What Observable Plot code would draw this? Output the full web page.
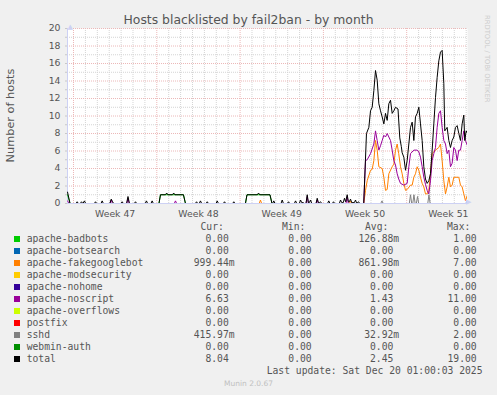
<!DOCTYPE html>
<html>
<head>
<meta charset="utf-8">
<script src="https://cdn.jsdelivr.net/npm/d3@7"></script>
<script src="https://cdn.jsdelivr.net/npm/@observablehq/plot@0.6"></script>
<style>
  html, body { margin: 0; padding: 0; background: #f0f0f0; }
  #wrap { position: relative; width: 497px; height: 395px; background: #f0f0f0; overflow: hidden; }
  #wrap svg { position: absolute; left: 0; top: 0; }
  .t { position: absolute; white-space: pre; color: #555; }
  .mono { font-family: "DejaVu Sans Mono", monospace; font-size: 9.7px; line-height: 12px; }
  .sw { position: absolute; width: 6px; height: 6px; }
</style>
</head>
<body>
<div id="wrap"></div>
<script>
// ---------- data (x = days since Mon 2025-11-17 00:00, value = hosts) ----------
const seriesNames = ["apache-badbots","apache-botsearch","apache-fakegooglebot","apache-modsecurity","apache-nohome","apache-noscript","apache-overflows","postfix","sshd","webmin-auth","total"];
const seriesColors = ["#00cc00","#0066b3","#ff8000","#ffcc00","#330099","#990099","#ccff00","#ff0000","#808080","#008f00","#000000"];
const curStr = ["0.00","0.00","999.44m","0.00","0.00","6.63","0.00","0.00","415.97m","0.00","8.04"];
const minStr = ["0.00","0.00","0.00","0.00","0.00","0.00","0.00","0.00","0.00","0.00","0.00"];
const avgStr = ["126.88m","0.00","861.98m","0.00","0.00","1.43","0.00","0.00","32.92m","0.00","2.45"];
const maxStr = ["1.00","0.00","7.00","0.00","0.00","11.00","0.00","0.00","2.00","0.00","19.00"];

const weekLabels = ["Week 47","Week 48","Week 49","Week 50","Week 51"];
const weekLabelDays = [3.5, 10.5, 17.5, 24.5, 31.5];
const yLabels = [0,2,4,6,8,10,12,14,16,18,20];

const zeroPts = [[-0.50,0],[33.11,0]];
const badbotsPts = [[-0.50,1.0],[-0.29,0],[7.18,0],[7.31,1.0],[9.24,1.0],[9.41,0],[14.45,0],[14.58,1.0],[16.51,1.0],[16.68,0],[33.11,0]];
const fakegooglebotPts = [[-0.50,0],[15.61,0],[15.71,0.4],[15.81,0],[23.18,0],[23.28,0.3],[23.38,0],[24.39,0],[24.54,1.5],[24.68,2.6],[24.96,3.8],[25.10,3.9],[25.24,4.9],[25.38,7.2],[25.52,6.1],[25.66,4.2],[25.94,4.0],[26.08,3.0],[26.22,1.5],[26.36,1.6],[26.50,3.4],[26.78,4.2],[26.92,4.5],[27.06,6.1],[27.20,6.8],[27.33,5.7],[27.48,4.2],[27.62,3.4],[27.76,2.3],[27.90,1.5],[28.04,1.6],[28.32,2.1],[28.46,2.1],[28.60,3.0],[28.74,3.4],[28.88,4.2],[29.02,3.8],[29.16,3.0],[29.30,2.3],[29.44,1.9],[29.58,1.1],[29.72,1.1],[29.86,1.5],[30.00,3.4],[30.14,5.7],[30.42,6.1],[30.70,6.4],[30.84,6.8],[30.98,4.9],[31.12,2.6],[31.26,1.1],[31.40,1.9],[31.54,3.0],[31.68,1.9],[31.82,2.1],[31.96,3.0],[32.38,3.0],[32.52,2.1],[32.66,1.9],[32.80,1.1],[32.94,0.3],[33.11,1.0]];
const noscriptPts = [[-0.50,0.3],[-0.35,0],[3.07,0],[3.17,0.4],[3.27,0],[4.48,0],[4.58,0.6],[4.68,0],[8.47,0],[8.57,0.3],[8.67,0],[19.54,0],[19.64,0.8],[19.74,0],[20.38,0],[20.48,0.4],[20.58,0],[22.90,0],[23.00,0.8],[23.10,0],[24.39,0],[24.54,4.9],[24.68,5.0],[24.96,5.7],[25.24,6.8],[25.38,8.3],[25.52,7.2],[25.66,6.1],[25.80,6.6],[25.94,7.2],[26.08,7.8],[26.22,7.6],[26.36,8.0],[26.50,7.6],[26.64,7.2],[26.78,6.1],[26.92,4.9],[27.06,4.4],[27.20,3.4],[27.33,2.8],[27.48,2.3],[27.76,2.1],[28.04,2.3],[28.18,4.2],[28.32,5.7],[28.60,6.1],[28.88,6.1],[29.02,5.9],[29.16,5.3],[29.30,4.2],[29.44,3.0],[29.58,2.2],[29.72,1.5],[29.86,1.1],[30.00,2.6],[30.14,4.9],[30.28,5.7],[30.42,6.4],[30.56,8.7],[30.70,10.3],[30.84,10.6],[30.98,8.7],[31.12,7.2],[31.26,6.8],[31.40,5.7],[31.54,6.1],[31.68,4.2],[31.82,4.6],[31.96,6.4],[32.10,6.1],[32.24,4.9],[32.38,6.1],[32.52,6.1],[32.66,7.2],[32.80,8.3],[32.94,7.2],[33.11,6.6]];
const sshdPts = [[-0.50,0],[25.82,0],[25.92,0.3],[26.02,0],[28.22,0],[28.32,1.0],[28.42,0],[28.51,0],[28.61,1.0],[28.71,0],[28.81,0],[28.91,0.8],[29.01,0],[29.77,0],[29.87,1.0],[29.97,0],[32.98,0],[33.11,0.4]];
const totalPts = [[-0.50,1.3],[-0.29,0],[0.21,0],[0.31,0.2],[0.41,0],[0.57,0],[0.67,0.2],[0.79,0],[0.92,0.3],[1.02,0],[1.75,0],[1.85,0.2],[1.95,0],[2.31,0],[2.41,0.3],[2.51,0],[3.05,0],[3.17,0.5],[3.29,0.2],[3.37,0],[3.99,0],[4.09,0.2],[4.19,0],[4.46,0],[4.58,0.8],[4.70,0],[5.11,0],[5.21,0.2],[5.31,0],[6.03,0],[6.13,0.3],[6.23,0],[6.51,0],[6.61,0.3],[6.71,0],[7.18,0],[7.31,1.0],[7.73,1.0],[7.83,1.2],[7.93,1.0],[8.32,1.0],[8.42,1.2],[8.52,1.0],[9.24,1.0],[9.41,0],[10.24,0],[10.34,0.2],[10.44,0],[10.57,0],[10.67,0.3],[10.77,0],[11.14,0],[11.24,0.2],[11.34,0],[11.98,0],[12.08,0.3],[12.18,0],[12.59,0],[12.69,0.2],[12.79,0],[13.37,0],[13.47,0.2],[13.57,0],[14.45,0],[14.58,1.0],[15.45,1.0],[15.55,1.2],[15.65,1.0],[16.51,1.0],[16.68,0],[16.73,0],[16.83,0.3],[16.93,0],[17.44,0],[17.54,0.4],[17.64,0],[17.97,0],[18.07,0.2],[18.17,0],[18.56,0],[18.66,0.3],[18.76,0],[18.98,0],[19.08,0.4],[19.18,0.1],[19.30,0.1],[19.40,0],[19.54,0],[19.64,1.0],[19.74,0.1],[19.82,0.1],[19.92,0.4],[20.02,0],[20.38,0],[20.48,0.6],[20.58,0.1],[20.66,0.1],[20.76,0.2],[20.86,0],[21.35,0],[21.45,0.3],[21.55,0],[21.75,0],[21.85,0.2],[21.95,0],[22.34,0],[22.44,0.4],[22.54,0.1],[22.67,0.1],[22.77,0.6],[22.87,0.2],[23.00,1.0],[23.10,0.2],[23.18,0.2],[23.28,0.5],[23.38,0.1],[23.60,0.1],[23.70,0.4],[23.80,0],[23.95,0.2],[24.05,0],[24.39,0],[24.62,8.0],[24.82,8.7],[24.96,10.6],[25.10,11.0],[25.24,12.9],[25.38,15.2],[25.52,14.1],[25.66,11.4],[25.80,10.6],[25.94,9.9],[26.08,9.1],[26.22,10.3],[26.36,9.5],[26.50,11.4],[26.64,11.8],[26.78,10.3],[26.92,10.6],[27.06,11.0],[27.27,10.8],[27.42,7.5],[27.55,6.5],[27.62,5.8],[27.76,5.3],[27.90,3.8],[28.04,4.9],[28.18,6.8],[28.32,8.7],[28.46,9.3],[28.60,7.2],[28.74,9.9],[28.88,10.3],[29.02,11.0],[29.16,9.1],[29.30,7.2],[29.44,4.2],[29.58,2.8],[29.72,2.3],[29.86,2.6],[30.00,3.4],[30.14,6.1],[30.28,9.1],[30.42,12.1],[30.56,14.4],[30.70,16.3],[30.84,17.3],[30.98,17.5],[31.12,13.7],[31.20,8.3],[31.40,8.7],[31.54,7.2],[31.68,6.4],[31.82,7.2],[31.96,7.6],[32.10,8.7],[32.24,8.9],[32.38,8.0],[32.52,7.2],[32.66,9.1],[32.80,10.1],[32.88,7.2],[33.00,8.3],[33.11,8.0]];

const seriesPts = [badbotsPts, zeroPts, fakegooglebotPts, zeroPts, zeroPts, noscriptPts, zeroPts, zeroPts, sshdPts, zeroPts, totalPts];

// ---------- helpers ----------
const T0 = Date.UTC(2025, 10, 17);
const toDate = d => new Date(T0 + d * 864e5);
const xDomain = [toDate(-0.504), toDate(33.11)];

const dayLines = d3.utcDay.range(toDate(0), xDomain[1]).filter(d => d.getUTCDay() !== 1);
const weekLines = d3.utcMonday.range(toDate(0), xDomain[1]);
const yMinor = d3.range(1, 20, 2);
const yMajor = d3.range(2, 21, 2);
const weekTicks = weekLabelDays.map(toDate);
const weekLabelMap = new Map(weekTicks.map((d, i) => [+d, weekLabels[i]]));

const axisColor = "#cdd1f4";
const gridMinor = "#d4d4d4";
const gridMajor = "#ecb8b8";

const lineMarks = seriesPts.map((pts, i) =>
  Plot.line(pts, {x: p => toDate(p[0]), y: p => p[1], stroke: seriesColors[i], strokeWidth: 1, clip: true})
);

const chart = Plot.plot({
  width: 497,
  height: 225,
  marginLeft: 67,
  marginRight: 30,
  marginTop: 28,
  marginBottom: 22,
  style: {background: "transparent", fontFamily: "DejaVu Sans", fontSize: "9.3px", color: "#555", overflow: "visible"},
  x: {type: "utc", domain: xDomain},
  y: {domain: [0, 20]},
  marks: [
    Plot.frame({fill: "white", stroke: "none"}),
    Plot.ruleY(yMinor, {stroke: gridMinor, strokeDasharray: "1,1"}),
    Plot.ruleX(dayLines, {stroke: gridMinor, strokeDasharray: "1,1"}),
    Plot.ruleY(yMajor, {stroke: gridMajor, strokeDasharray: "1,1"}),
    Plot.ruleX(weekLines, {stroke: gridMajor, strokeDasharray: "1,1"}),
    Plot.axisY({ticks: d3.range(0, 21, 1), tickSize: 2, tickPadding: 5, stroke: "#c8c8c8",
      tickFormat: v => (yLabels.includes(v) ? String(v) : ""), label: null, fill: "#555"}),
    Plot.axisX({ticks: weekTicks, tickSize: 0, tickPadding: 7, label: null, fill: "#555",
      tickFormat: d => weekLabelMap.get(+d)}),
    Plot.ruleX([xDomain[0]], {stroke: axisColor}),
    Plot.ruleY([0], {stroke: axisColor}),
    ...lineMarks,
    Plot.text(["\u25B2"], {text: d => d, frameAnchor: "top-left", dy: -4, fill: axisColor, fontSize: 7}),
    Plot.text(["\u25B6"], {text: d => d, frameAnchor: "bottom-right", dx: 4, fill: axisColor, fontSize: 7})
  ]
});

const wrap = document.getElementById("wrap");
wrap.appendChild(chart);

function addText(txt, style, cls) {
  const el = document.createElement("div");
  el.className = "t" + (cls ? " " + cls : "");
  el.textContent = txt;
  Object.assign(el.style, style);
  wrap.appendChild(el);
  return el;
}

// title
addText("Hosts blacklisted by fail2ban - by month", {left: "0px", width: "497px", textAlign: "center", top: "12px",
  fontFamily: "DejaVu Sans", fontSize: "12.4px", lineHeight: "15px"});
// y label
addText("Number of hosts", {left: "-50px", width: "120px", textAlign: "center", top: "107.5px",
  fontFamily: "DejaVu Sans", fontSize: "11.3px", lineHeight: "15px", transform: "rotate(-90deg)", transformOrigin: "60px 7.5px"});
// watermark
addText("RRDTOOL / TOBI OETIKER", {left: "483px", top: "15px", writingMode: "vertical-rl",
  fontFamily: "DejaVu Sans", fontSize: "6.8px", lineHeight: "8px", color: "#cccccc"});

// legend header
const hdrTop = 221;
[["Cur:", 200.5], ["Min:", 282], ["Avg:", 365], ["Max:", 447]].forEach(([t, x]) =>
  addText(t, {left: x + "px", top: hdrTop + "px"}, "mono"));

const colEdges = [234.6, 317.5, 399.2, 482.5];
const fmt = s => (s.endsWith("m") ? s : s + " ");
seriesNames.forEach((name, i) => {
  const top = 233.1 + 12 * i;
  const sw = document.createElement("div");
  sw.className = "sw";
  sw.style.left = "14px";
  sw.style.top = (top + 3) + "px";
  sw.style.background = seriesColors[i];
  wrap.appendChild(sw);
  addText(name, {left: "26.7px", top: top + "px"}, "mono");
  [curStr[i], minStr[i], avgStr[i], maxStr[i]].forEach((v, k) =>
    addText(fmt(v), {right: (497 - colEdges[k]) + "px", top: top + "px", textAlign: "right"}, "mono"));
});
addText("Last update: Sat Dec 20 01:00:03 2025", {right: (497 - 482.5) + "px", top: (233.1 + 12 * 11) + "px"}, "mono");
addText("Munin 2.0.67", {left: "0px", width: "497px", textAlign: "center", top: "379px",
  fontFamily: "DejaVu Sans", fontSize: "7.5px", lineHeight: "10px", color: "#c0c0c0"});
</script>
</body>
</html>
